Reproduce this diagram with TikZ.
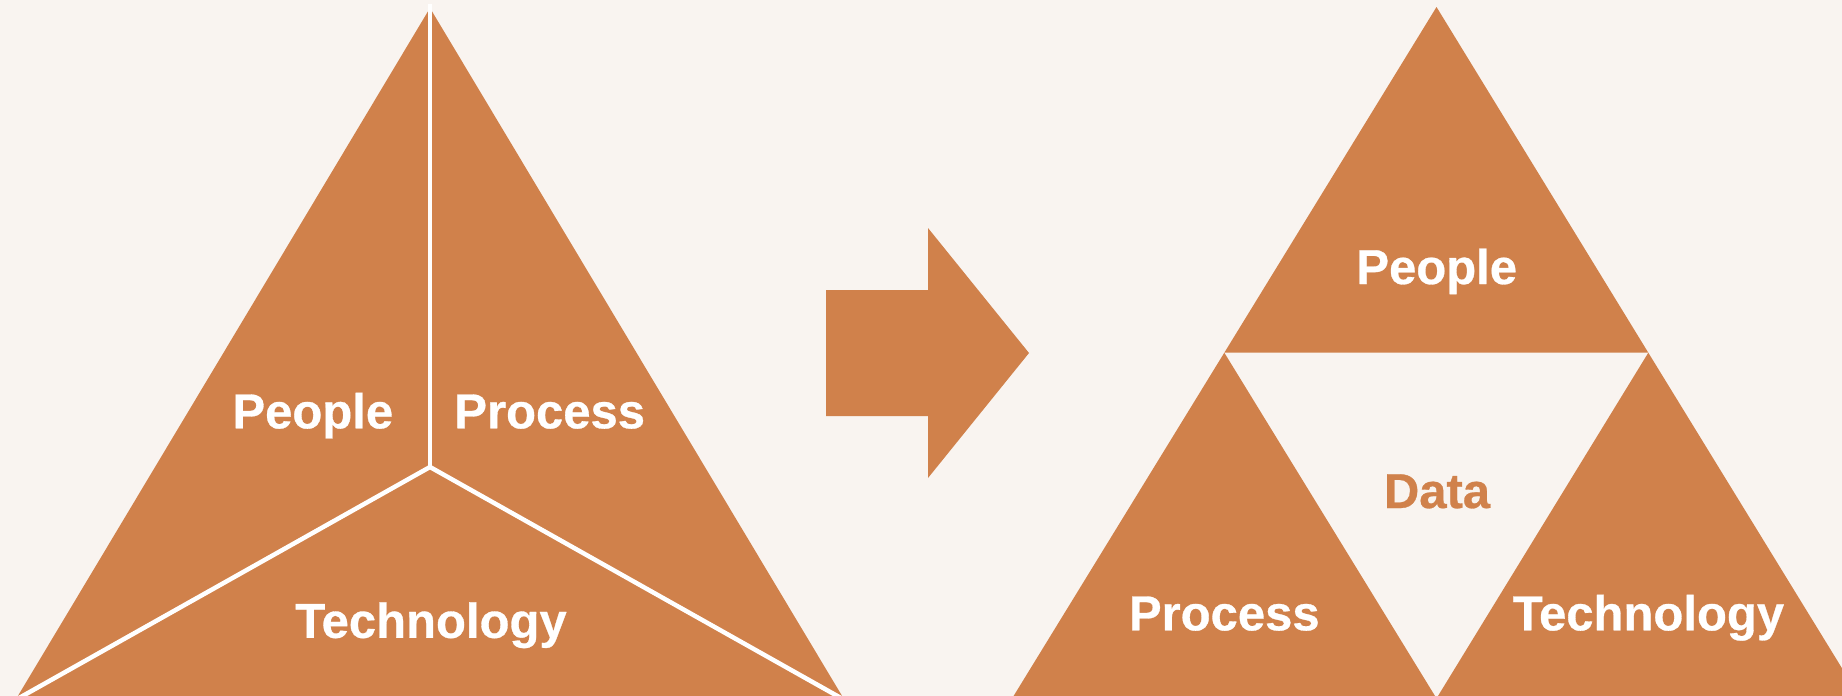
\documentclass[tikz,border=0pt]{standalone}
\usepackage{fontspec}
\setmainfont{Liberation Sans}
\newfontfamily\lblfont[FakeBold=0.6]{Liberation Sans Bold}
\definecolor{bg}{RGB}{249,244,240}
\definecolor{orng}{RGB}{208,129,75}
\begin{document}
\begin{tikzpicture}[x=1pt,y=-1pt,
  lbl/.style={font=\lblfont\fontsize{49}{49}\selectfont, text=white, inner sep=0pt, anchor=base},
  piece/.style={fill=orng, draw=none},
  split/.style={draw=white, line width=4.5pt}]
\fill[bg] (0,0) rectangle (1842,696);
\useasboundingbox (0,0) rectangle (1842,696);
\clip (0,0) rectangle (1842,696);
% left triangle
\coordinate (lapex) at (430,8);
\coordinate (lbl) at (15.5,700);
\coordinate (lbr) at (844.5,700);
\coordinate (lmid) at (430,467);
\fill[piece] (lapex) -- (lbl) -- (lbr) -- cycle;
\draw[split] (430,4) -- (lmid);
\draw[split] (lmid) -- (lbl);
\draw[split] (lmid) -- (lbr);
\node[lbl] (lpeople) at (312.8,428.3) {People};
\node[lbl] (lprocess) at (549.7,428.3) {Process};
\node[lbl] (ltech) at (431,637.8) {Technology};
% arrow
\fill[piece] (826,290) -- (928,290) -- (928,228) -- (1029,353) -- (928,478) -- (928,416) -- (826,416) -- cycle;
% right triangles
\coordinate (rapex) at (1436.5,7);
\coordinate (rml) at (1224.3,352.7);
\coordinate (rmr) at (1648.3,352.7);
\coordinate (rbl) at (1012.1,698.4);
\coordinate (rbm) at (1436.5,698.4);
\coordinate (rbr) at (1860.5,698.4);
\fill[piece] (rapex) -- (rml) -- (rmr) -- cycle;
\fill[piece] (rml) -- (rbl) -- (rbm) -- cycle;
\fill[piece] (rmr) -- (rbm) -- (rbr) -- cycle;
\node[lbl] (rpeople) at (1436.7,284) {People};
\node[lbl, text=orng] (rdata) at (1437,508) {Data};
\node[lbl] (rprocess) at (1224.3,630.3) {Process};
\node[lbl] (rtech) at (1648.4,630.3) {Technology};
\end{tikzpicture}
\end{document}
